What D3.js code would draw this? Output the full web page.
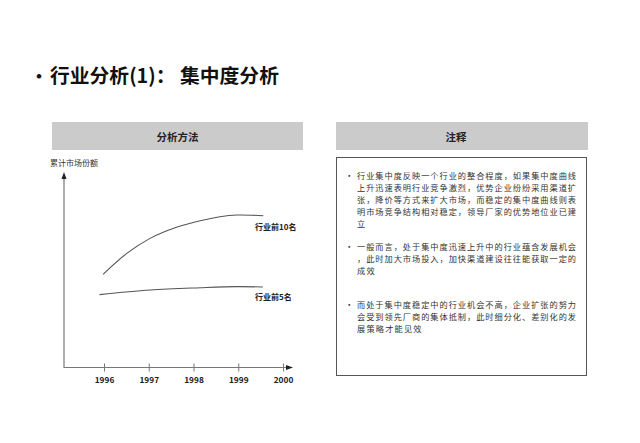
<!DOCTYPE html>
<html><head><meta charset="utf-8">
<script src="https://cdn.jsdelivr.net/npm/d3@7"></script>
<style>
html,body{margin:0;padding:0;background:#fff;}
svg{display:block;}
text{font-family:"Noto Sans CJK SC","Microsoft YaHei",sans-serif;}
</style></head>
<body>
<svg id="c" width="640" height="443"></svg>
<script>
// ---- data ----
const titleText = "行业分析(1)： 集中度分析";
const leftHeader = "分析方法";
const rightHeader = "注释";
const yAxisLabel = "累计市场份额";
const yearTicks = [1996, 1997, 1998, 1999, 2000];
const seriesNames = ["行业前10名", "行业前5名"];
const top10Years = [1995.98, 1996.51, 1997.03, 1997.62, 1998.15, 1998.59, 1998.97, 1999.56];
const top10Share = [48.8, 59.8, 67.7, 73.5, 77.0, 79.1, 80.0, 79.6];
const top5Years = [1995.9, 1997.03, 1998.15, 1998.97, 1999.55];
const top5Share = [38.1, 40.5, 41.7, 42.3, 42.1];
const notes = [
  ["行业集中度反映一个行业的整合程度，如果集中度曲线", "上升迅速表明行业竞争激烈，优势企业纷纷采用渠道扩", "张，降价等方式来扩大市场，而稳定的集中度曲线则表", "明市场竞争结构相对稳定，领导厂家的优势地位业已建", "立"],
  ["一般而言，处于集中度迅速上升中的行业蕴含发展机会", "，此时加大市场投入，加快渠道建设往往能获取一定的", "成效"],
  ["而处于集中度稳定中的行业机会不高，企业扩张的努力", "会受到领先厂商的集体抵制，此时细分化、差别化的发", "展策略才能见效"]
];

const svg = d3.select("#c");

// title
svg.append("text").attr("x", 30).attr("y", 83).attr("font-size", 18).attr("font-weight", "bold").attr("fill", "#111").text("•");
svg.append("text").attr("x", 50).attr("y", 83).attr("font-size", 19.8).attr("font-weight", "bold").attr("fill", "#111").text(titleText);

// headers
const hdrs = [{x: 52, w: 251, t: leftHeader, cx: 177.5}, {x: 336, w: 252, t: rightHeader, cx: 456}];
hdrs.forEach(h => {
  svg.append("rect").attr("x", h.x).attr("y", 122).attr("width", h.w).attr("height", 28).attr("fill", "#cbcbcb");
  svg.append("text").attr("x", h.cx).attr("y", 141).attr("text-anchor", "middle").attr("font-size", 10.5).attr("font-weight", "bold").attr("fill", "#222").text(h.t);
});

// notes box
svg.append("rect").attr("x", 336.5).attr("y", 157.5).attr("width", 250).attr("height", 218).attr("fill", "none").attr("stroke", "#555").attr("stroke-width", 1);
const lineH = 12;
const startYs = [178.5, 250, 307.5];
notes.forEach((para, i) => {
  svg.append("text").attr("x", 345).attr("y", startYs[i]).attr("font-size", 8.5).attr("fill", "#333").text("•");
  para.forEach((ln, j) => {
    const t = svg.append("text").attr("x", 357).attr("y", startYs[i] + j * lineH)
      .attr("font-size", 8.2).attr("fill", "#333").text(ln);
    if (ln.length >= 20) t.attr("textLength", 219).attr("lengthAdjust", "spacing");
    else t.attr("letter-spacing", 1.2);
  });
});

// chart
const x = d3.scaleLinear().domain([1996, 2000]).range([104, 283]);
const y = d3.scaleLinear().domain([0, 100]).range([367, 177]);

svg.append("text").attr("x", 50).attr("y", 166).attr("font-size", 8).attr("fill", "#333").text(yAxisLabel);

const axisColor = "#777";
// y axis
svg.append("line").attr("x1", 64).attr("x2", 64).attr("y1", 178).attr("y2", 368).attr("stroke", axisColor).attr("stroke-width", 1.2);
svg.append("path").attr("d", "M64,172 L61.5,179 L66.5,179 Z").attr("fill", "#222");
// x axis
const xAxisG = svg.append("g").attr("transform", "translate(0,367.5)");
xAxisG.append("line").attr("x1", 64).attr("x2", 288).attr("y1", 0).attr("y2", 0).attr("stroke", axisColor).attr("stroke-width", 1.2);
xAxisG.append("path").attr("d", "M293,0 L286,-2.5 L286,2.5 Z").attr("fill", "#222");
const ax = d3.axisBottom(x).tickValues(yearTicks).tickFormat(d3.format("d")).tickSize(4).tickPadding(6);
const axG = svg.append("g").attr("transform", "translate(0,367.5)").call(ax);
axG.select(".domain").remove();
axG.selectAll(".tick line").attr("y1", -4).attr("y2", 4).attr("stroke", axisColor);
axG.selectAll(".tick text").attr("font-size", 8.3).attr("font-weight", "bold").attr("fill", "#222")
  .attr("font-family", "Arial, 'Liberation Sans', sans-serif");

const line = d3.line().x(d => x(d[0])).y(d => y(d[1])).curve(d3.curveCatmullRom.alpha(0.5));
svg.append("path").datum(d3.zip(top10Years, top10Share)).attr("d", line).attr("fill", "none").attr("stroke", "#555").attr("stroke-width", 1.1);
svg.append("path").datum(d3.zip(top5Years, top5Share)).attr("d", line).attr("fill", "none").attr("stroke", "#555").attr("stroke-width", 1.1);

svg.append("text").attr("x", 255).attr("y", 230).attr("font-size", 8).attr("font-weight", "bold").attr("fill", "#222").text(seriesNames[0]);
svg.append("text").attr("x", 255).attr("y", 300).attr("font-size", 8).attr("font-weight", "bold").attr("fill", "#222").text(seriesNames[1]);
</script>
</body></html>
